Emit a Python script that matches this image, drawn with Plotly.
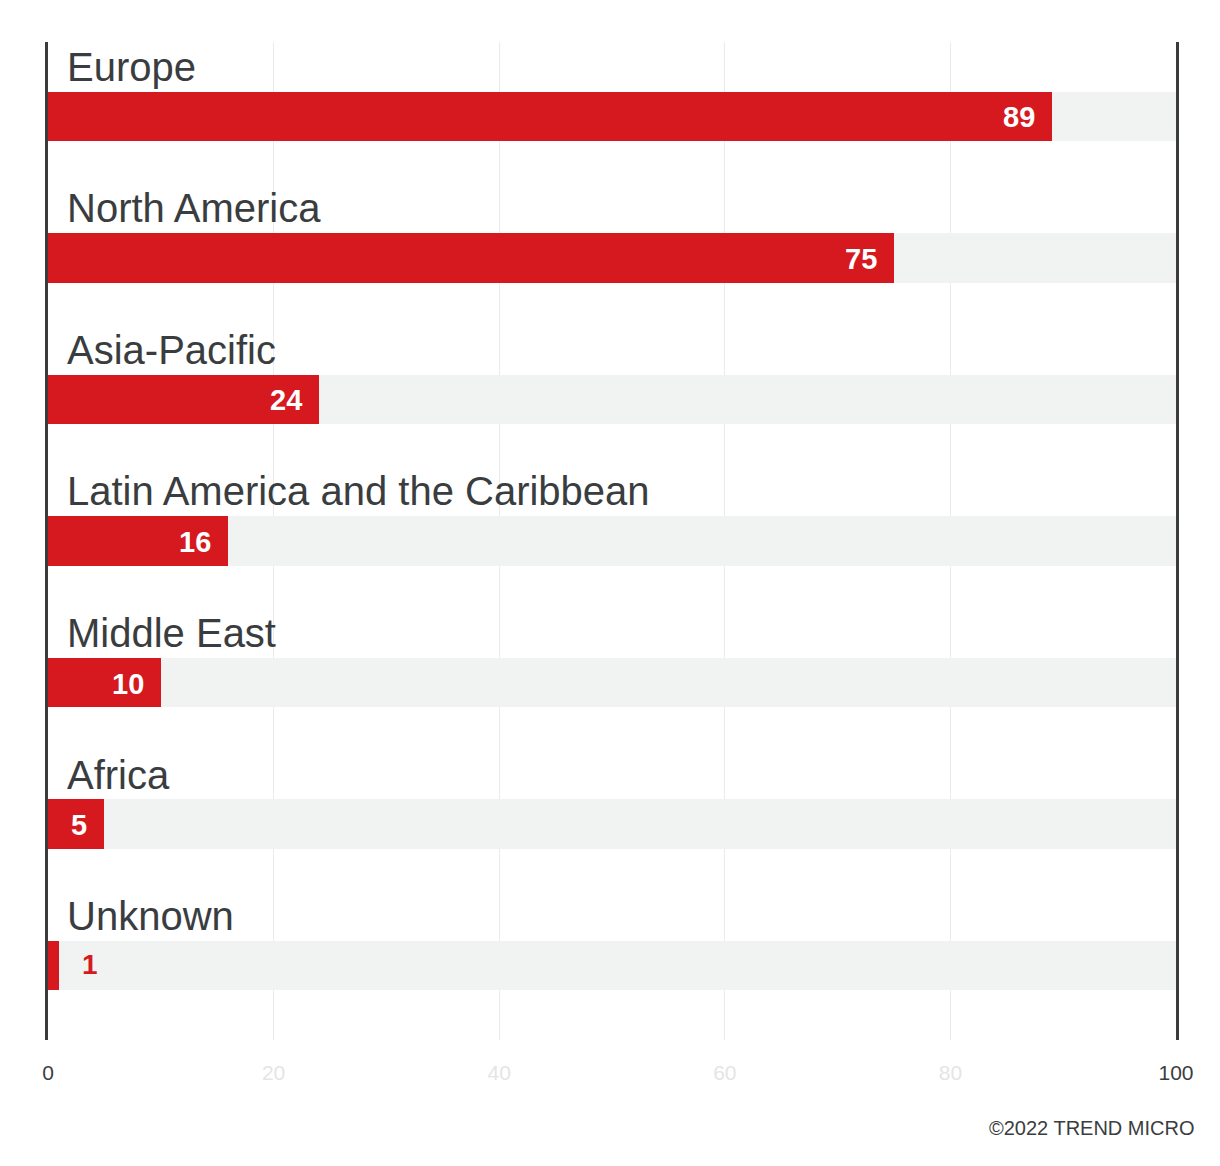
import plotly.graph_objects as go

regions = ["Europe", "North America", "Asia-Pacific", "Latin America and the Caribbean",
           "Middle East", "Africa", "Unknown"]
values = [89, 75, 24, 16, 10, 5, 1]
tick_vals = [0, 20, 40, 60, 80, 100]
tick_labels = ["0", "20", "40", "60", "80", "100"]
credit = "©2022 TREND MICRO"

RED = "#d6191f"
BG = "#f1f2f2"
DARK = "#3a3d40"
LIGHT = "#e4e5e6"
FONT = "Liberation Sans"
XMAX = 100

# page offset (browser body margin) compensation
OFF = 8
L, T = 48 - OFF, 42 - OFF
PLOT_W, PLOT_H = 1128, 998
R = 1220 - L - PLOT_W
B = 1166 - T - PLOT_H

ypos = list(range(len(regions)))

fig = go.Figure()
fig.add_trace(go.Bar(y=ypos, x=[XMAX] * len(regions), orientation="h",
                     marker=dict(color=BG, line=dict(width=0)), width=0.35,
                     hoverinfo="skip", showlegend=False))
fig.add_trace(go.Bar(y=ypos, x=values, orientation="h",
                     marker=dict(color=RED, line=dict(width=0)), width=0.35,
                     showlegend=False))

ann = []
for i, (r, v) in enumerate(zip(regions, values)):
    ann.append(dict(x=0, y=i - 0.35, xref="x", yref="y", text=r, showarrow=False,
                    xanchor="left", yanchor="middle", xshift=17,
                    font=dict(family=FONT, size=40, color=DARK)))
    if v >= 4:
        ann.append(dict(x=v, y=i, xref="x", yref="y", text=f"<b>{v}</b>", showarrow=False,
                        xanchor="right", yanchor="middle", xshift=-15, yshift=-1,
                        font=dict(family=FONT, size=29, color="white")))
    else:
        ann.append(dict(x=v, y=i, xref="x", yref="y", text=f"<b>{v}</b>", showarrow=False,
                        xanchor="left", yanchor="middle", xshift=21, yshift=1,
                        font=dict(family=FONT, size=28, color=RED)))

ann.append(dict(x=(1197 - 48) / PLOT_W, y=(1040 - 1128) / PLOT_H, xref="paper", yref="paper",
                text=credit, showarrow=False, xanchor="right", yanchor="middle",
                font=dict(family=FONT, size=20, color=DARK)))

tick_text = []
for t, lab in zip(tick_vals, tick_labels):
    col = DARK if t in (0, XMAX) else LIGHT
    tick_text.append(f"<span style='color:{col}'>{lab}</span>")

fig.update_layout(
    width=1220, height=1166,
    margin=dict(l=L, r=R, t=T, b=B),
    paper_bgcolor="white", plot_bgcolor="white",
    barmode="overlay", bargap=0,
    annotations=ann,
    xaxis=dict(range=[0, XMAX], tickvals=tick_vals, ticktext=tick_text,
               showgrid=True, gridcolor="#ebebeb", gridwidth=1, zeroline=False,
               showline=False, ticks="", ticklabelstandoff=18,
               tickfont=dict(family=FONT, size=21, color=DARK), fixedrange=True),
    yaxis=dict(range=[len(regions) - 1 + 0.526, -0.526], showticklabels=False,
               showgrid=False, zeroline=False, showline=True, mirror=True,
               linecolor="#3b3b3b", linewidth=3, fixedrange=True),
)

fig.write_html("out.html")
